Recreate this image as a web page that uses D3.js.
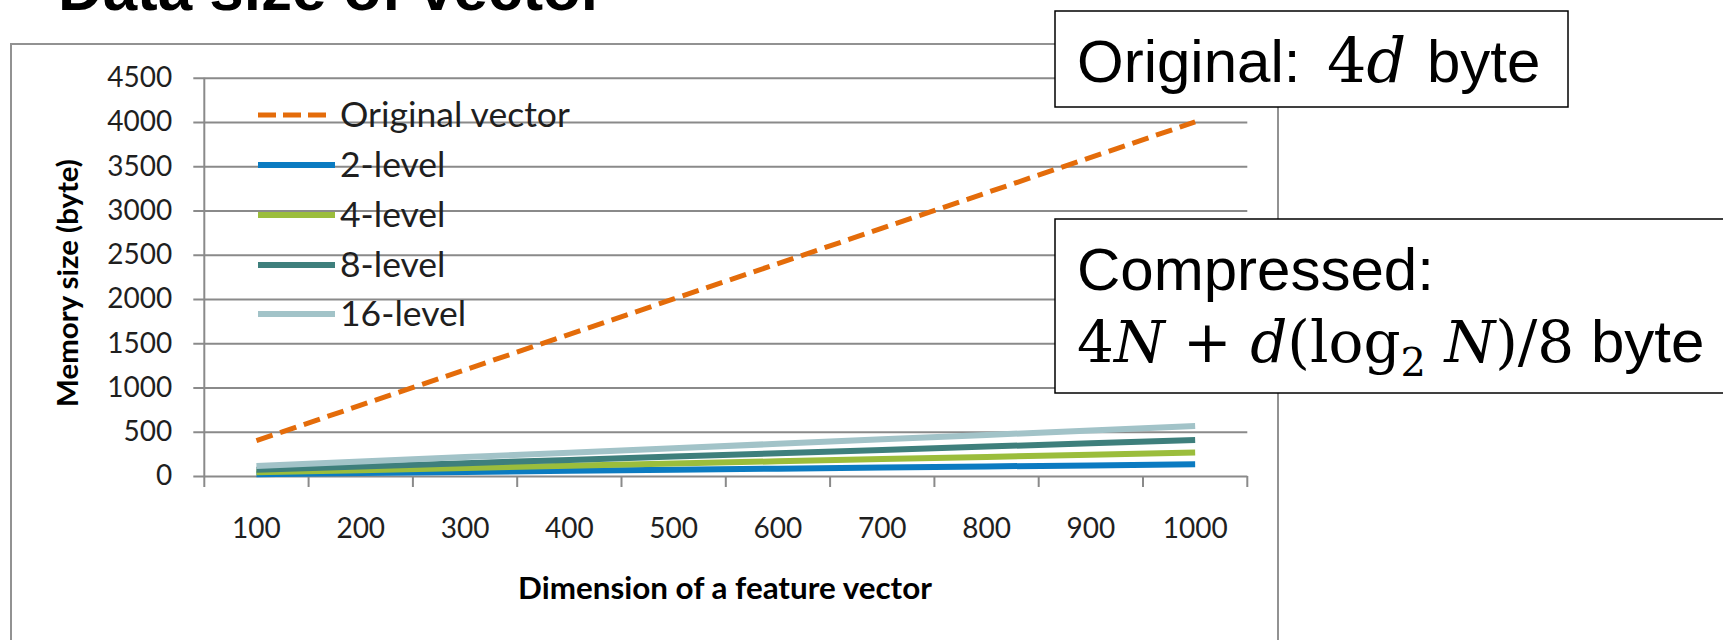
<!DOCTYPE html>
<html>
<head>
<meta charset="utf-8">
<script src="https://cdn.jsdelivr.net/npm/d3@7/dist/d3.min.js"></script>
<style>
  body { margin: 0; background: #ffffff; }
  svg { display: block; }
  .tick-text { font-family: Lato, "Open Sans", sans-serif; font-size: 28px; fill: #1f1f1f; }
  .axis-title { font-family: Lato, "Open Sans", sans-serif; font-weight: bold; fill: #000; }
  .legend-text { font-family: Lato, "Open Sans", sans-serif; fill: #1f1f1f; }
  .box-text { font-family: "Liberation Sans", Arial, sans-serif; font-size: 60px; fill: #000; }
  .math { font-family: "DejaVu Serif", "Liberation Serif", serif; }
</style>
</head>
<body>
<svg id="chart"></svg>
<script>
// -----------------------------------------------------------------------------
// data
var dims = [100, 200, 300, 400, 500, 600, 700, 800, 900, 1000]
var original_vec = [400, 800, 1200, 1600, 2000, 2400, 2800, 3200, 3600, 4000]
var level_2 = [20, 33, 45, 58, 70, 83, 95, 108, 120, 133]
var level_4 = [41, 66, 91, 116, 141, 166, 191, 216, 241, 266]
var level_8 = [70, 107, 145, 182, 220, 257, 295, 332, 370, 407]
var level_16 = [114, 164, 214, 264, 314, 364, 414, 464, 514, 564]
var y_ticks = [0, 500, 1000, 1500, 2000, 2500, 3000, 3500, 4000, 4500]

var series_names = ["Original vector", "2-level", "4-level", "8-level", "16-level"]
var series_values = [original_vec, level_2, level_4, level_8, level_16]
var series_colors = ["#E46C0A", "#0B7BC1", "#9BBD3C", "#3E7F7C", "#A2C3C8"]

// -----------------------------------------------------------------------------
// layout
var width = 1723,
    height = 640,
    plot_left = 204.3,
    plot_right = 1247.3,
    plot_top = 77.7,
    plot_bottom = 476,
    grid_color = "#8a8a8a"

var svg = d3.select("#chart")
    .attr("width", width)
    .attr("height", height)

// scales
var x = d3.scaleBand()
    .domain(dims)
    .range([plot_left, plot_right])

var y = d3.scaleLinear()
    .domain([0, 4500])
    .range([plot_bottom, plot_top])

function xc(d) { return x(d) + x.bandwidth() / 2 }

// set font-size so that a text gets a given width
function fitText(sel, target) {
  var len = sel.node().getComputedTextLength()
  var fs = parseFloat(sel.style("font-size"))
  sel.style("font-size", (fs * target / len) + "px")
}

// chart area frame (runs off the bottom of the slide)
svg.append("rect")
    .attr("x", 11)
    .attr("y", 44)
    .attr("width", 1267)
    .attr("height", 700)
    .attr("fill", "#fff")
    .attr("stroke", "#929292")
    .attr("stroke-width", 2)

// title, cut off at the top like on the slide
var title = svg.append("text")
    .attr("x", 58)
    .attr("y", 10)
    .style("font-family", "'Liberation Sans', Arial, sans-serif")
    .style("font-weight", "bold")
    .style("font-size", "62px")
    .text("Data size of vector")
fitText(title, 547)

// -----------------------------------------------------------------------------
// axes + grid
var gy = svg.append("g")
    .attr("transform", "translate(" + plot_left + ",0)")
    .call(d3.axisLeft(y)
      .tickValues(y_ticks)
      .tickSize(-(plot_right - plot_left))
      .tickPadding(32)
      .tickFormat(d3.format("d")))

gy.select(".domain").remove()
gy.selectAll(".tick line")
    .attr("x1", -11)
    .attr("stroke", grid_color)
    .attr("stroke-width", 2)
gy.selectAll(".tick text")
    .attr("class", "tick-text")

// vertical axis line
svg.append("line")
    .attr("x1", plot_left).attr("x2", plot_left)
    .attr("y1", y(4500)).attr("y2", y(0))
    .attr("stroke", grid_color)
    .attr("stroke-width", 2)

// tick marks between categories
var bounds = dims.map(function(d) { return x(d) }).concat([x.range()[1]])
svg.append("g").selectAll("line")
    .data(bounds)
    .join("line")
    .attr("x1", function(d) { return d })
    .attr("x2", function(d) { return d })
    .attr("y1", y(0))
    .attr("y2", y(0) + 11)
    .attr("stroke", grid_color)
    .attr("stroke-width", 2)

var gx = svg.append("g")
    .attr("transform", "translate(0," + plot_bottom + ")")
    .call(d3.axisBottom(x).tickSize(0).tickPadding(42))
gx.select(".domain").remove()
gx.selectAll(".tick text")
    .attr("class", "tick-text")

// axis titles
var xtitle = svg.append("text")
    .attr("class", "axis-title")
    .attr("text-anchor", "middle")
    .attr("x", 725)
    .attr("y", 599)
    .style("font-size", "28px")
    .text("Dimension of a feature vector")
fitText(xtitle, 414)

var ytitle = svg.append("text")
    .attr("class", "axis-title")
    .attr("text-anchor", "middle")
    .attr("transform", "translate(78,283)rotate(-90)")
    .style("font-size", "28px")
    .text("Memory size (byte)")
fitText(ytitle, 248)

// -----------------------------------------------------------------------------
// lines
var line = d3.line()
    .x(function(d, i) { return xc(dims[i]) })
    .y(function(d) { return y(d) })

svg.append("g").selectAll("path")
    .data(series_values)
    .join("path")
    .attr("d", function(d) { return line(d) })
    .attr("fill", "none")
    .attr("stroke", function(d, i) { return series_colors[i] })
    .attr("stroke-width", function(d, i) { return i == 0 ? 5 : 6 })
    .attr("stroke-dasharray", function(d, i) { return i == 0 ? "17,8" : null })

// legend
var leg_y = [115, 165, 215, 265, 314]
var leg = svg.append("g").selectAll("g")
    .data(series_names)
    .join("g")
    .attr("transform", function(d, i) { return "translate(258," + leg_y[i] + ")" })

leg.append("line")
    .attr("x1", 0)
    .attr("x2", function(d, i) { return i == 0 ? 70 : 77 })
    .attr("stroke", function(d, i) { return series_colors[i] })
    .attr("stroke-width", function(d, i) { return i == 0 ? 5 : 6 })
    .attr("stroke-dasharray", function(d, i) { return i == 0 ? "18,7" : null })

var leg_text = leg.append("text")
    .attr("class", "legend-text")
    .attr("x", 82)
    .attr("y", 12)
    .style("font-size", "33px")
    .text(function(d) { return d })
fitText(d3.select(leg_text.nodes()[0]), 230)
leg_text.style("font-size", d3.select(leg_text.nodes()[0]).style("font-size"))

// -----------------------------------------------------------------------------
// annotation boxes
svg.append("rect")
    .attr("x", 1055).attr("y", 11)
    .attr("width", 513).attr("height", 96)
    .attr("fill", "#fff")
    .attr("stroke", "#000")
    .attr("stroke-width", 1.5)

var t1 = svg.append("text")
    .attr("class", "box-text")
    .attr("x", 1077)
    .attr("y", 82)
t1.append("tspan").text("Original: ")
t1.append("tspan").attr("class", "math").attr("dx", 10).style("font-size", "62px").text("4")
t1.append("tspan").attr("class", "math").style("font-size", "62px").style("font-style", "italic").text("d")
t1.append("tspan").attr("dx", 4).text(" byte")

svg.append("rect")
    .attr("x", 1055).attr("y", 219)
    .attr("width", 700).attr("height", 174)
    .attr("fill", "#fff")
    .attr("stroke", "#000")
    .attr("stroke-width", 1.5)

svg.append("text")
    .attr("class", "box-text")
    .attr("x", 1077)
    .attr("y", 290)
    .text("Compressed:")

var mfs = "58px"
var t2 = svg.append("text")
    .attr("class", "box-text")
    .attr("x", 1077)
    .attr("y", 362)
t2.append("tspan").attr("class", "math").style("font-size", mfs).text("4")
t2.append("tspan").attr("class", "math").style("font-size", mfs).style("font-style", "italic").text("N")
t2.append("tspan").attr("class", "math").style("font-size", mfs).text(" + ")
t2.append("tspan").attr("class", "math").style("font-size", mfs).style("font-style", "italic").text("d")
t2.append("tspan").attr("class", "math").style("font-size", mfs).text("(log")
t2.append("tspan").attr("class", "math").style("font-size", "40px").attr("dy", 14).text("2")
t2.append("tspan").attr("class", "math").style("font-size", mfs).style("font-style", "italic").attr("dy", -14).text(" N")
t2.append("tspan").attr("class", "math").style("font-size", mfs).text(")/8")
t2.append("tspan").text(" byte")
</script>
</body>
</html>
